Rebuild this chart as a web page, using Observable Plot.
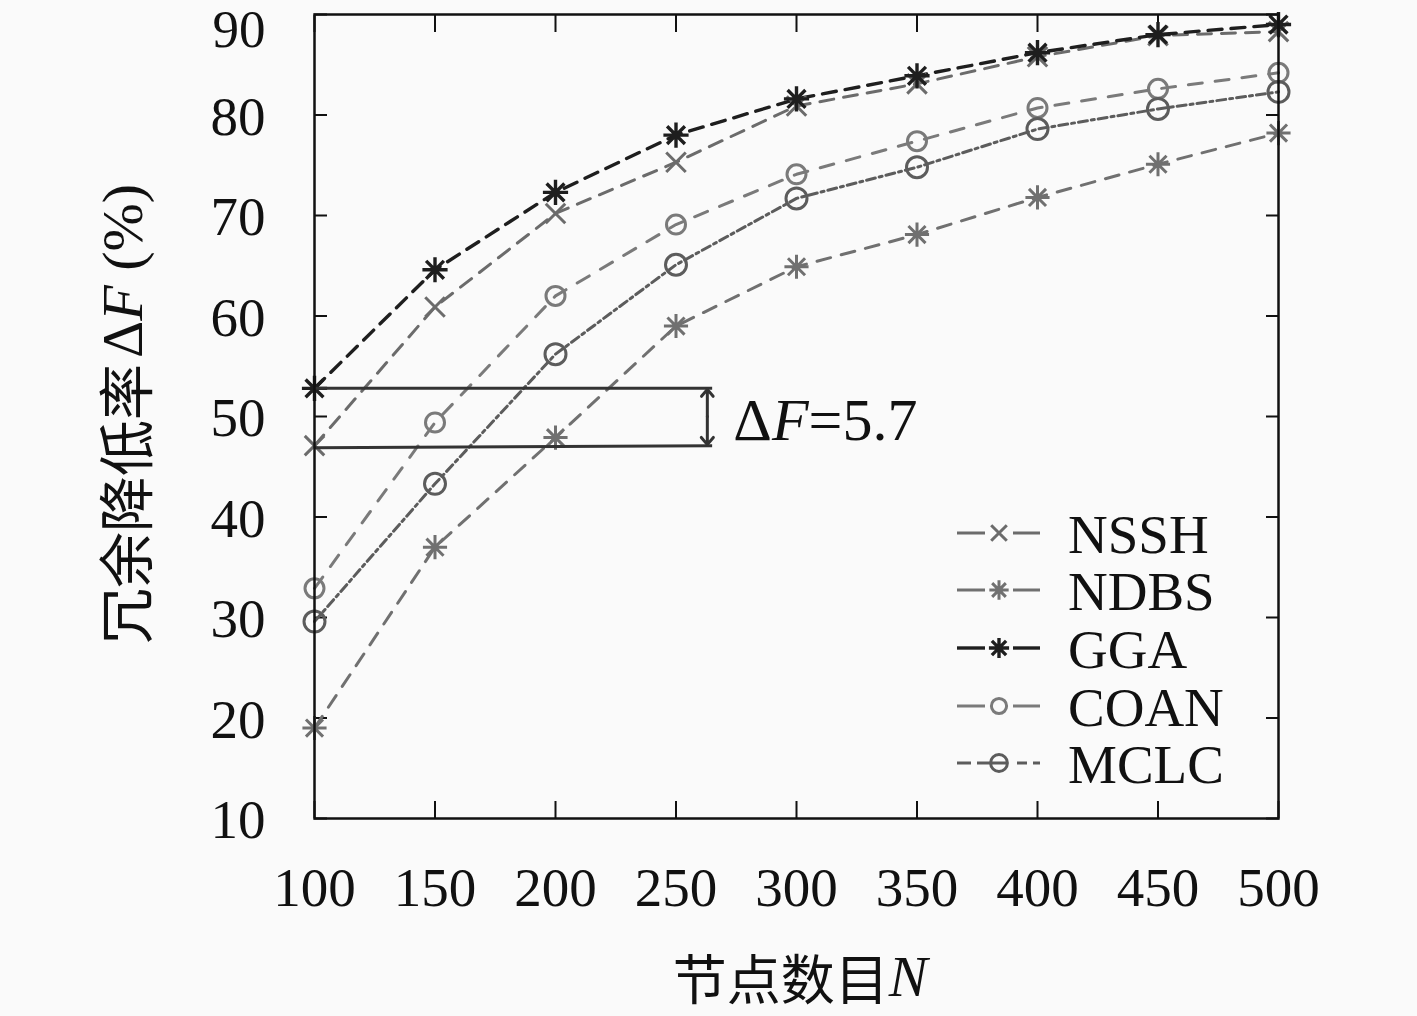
<!DOCTYPE html>
<html><head><meta charset="utf-8">
<script src="https://cdn.jsdelivr.net/npm/d3@7"></script>
<script src="https://cdn.jsdelivr.net/npm/@observablehq/plot@0.6"></script>
<style>body{margin:0;background:#fafafa;}</style>
</head><body><div id="chart"></div>
<script>
// ---- data ----
const N = [100, 150, 200, 250, 300, 350, 400, 450, 500];
const NSSH = [47.1, 60.9, 70.2, 75.3, 80.9, 83.1, 85.8, 87.9, 88.3];
const NDBS = [19.0, 37.0, 47.9, 59.0, 64.9, 68.1, 71.8, 75.1, 78.2];
const GGA  = [52.8, 64.6, 72.3, 78.0, 81.6, 83.9, 86.2, 88.0, 89.0];
const COAN = [32.9, 49.4, 62.0, 69.1, 74.1, 77.4, 80.7, 82.6, 84.2];
const MCLC = [29.6, 43.3, 56.2, 65.1, 71.7, 74.8, 78.6, 80.6, 82.3];
const seriesNames = ["NSSH", "NDBS", "GGA", "COAN", "MCLC"];
const seriesValues = [NSSH, NDBS, GGA, COAN, MCLC];
const xTicks = [100, 150, 200, 250, 300, 350, 400, 450, 500];
const yTicks = [10, 20, 30, 40, 50, 60, 70, 80, 90];
// annotation (data units)
const annoLines = [{x1: 100, y1: 52.8, x2: 265, y2: 52.8}, {x1: 100, y1: 46.9, x2: 265, y2: 47.1}];
const annoArrowMid = 50.0, annoArrowX = 263, annoArrowTop = 52.7, annoArrowBottom = 47.2;
const annoText = {x: 274, y: 49.6, label: "5.7"};

// ---- custom symbols ----
const star8 = {draw(ctx, size) {
  const r = Math.sqrt(size / Math.PI) * 1.05;
  for (let i = 0; i < 4; i++) {
    const a = i * Math.PI / 4;
    ctx.moveTo(-r * Math.cos(a), -r * Math.sin(a));
    ctx.lineTo(r * Math.cos(a), r * Math.sin(a));
  }
}};
const cross = {draw(ctx, size) {
  const r = Math.sqrt(size / Math.PI) * 0.75;
  ctx.moveTo(-r, -r); ctx.lineTo(r, r);
  ctx.moveTo(-r, r); ctx.lineTo(r, -r);
}};
const ring = {draw(ctx, size) {
  const r = Math.sqrt(size / Math.PI);
  ctx.moveTo(r, 0); ctx.arc(0, 0, r, 0, 2 * Math.PI);
}};

const styles = {
  NSSH: {stroke: "#6b6b6b", dash: "14,10", symbol: cross, r: 13, sw: 3},
  NDBS: {stroke: "#707070", dash: "14,11", symbol: star8, r: 11.5, sw: 3},
  GGA:  {stroke: "#1e1e1e", dash: "14,9", symbol: star8, r: 12, sw: 3.4},
  COAN: {stroke: "#7a7a7a", dash: "14,13", symbol: ring, r: 9.5, sw: 3},
  MCLC: {stroke: "#5c5c5c", dash: "9,4,3,4", symbol: ring, r: 10.5, sw: 3}
};

const rows = seriesNames.flatMap((s, i) => N.map((n, j) => ({series: s, n, v: seriesValues[i][j]})));

const lineMarks = seriesNames.map(s => {
  const st = styles[s];
  const d = rows.filter(r => r.series === s);
  return Plot.line(d, {x: "n", y: "v", stroke: st.stroke, strokeWidth: st.sw, strokeDasharray: st.dash});
});
const dotMarks = seriesNames.map(s => {
  const st = styles[s];
  const d = rows.filter(r => r.series === s);
  return Plot.dot(d, {x: "n", y: "v", symbol: st.symbol, r: st.r, stroke: st.stroke, fill: "none", strokeWidth: st.sw});
});

const yTicksLow = yTicks.slice(0, -1), yTicksTop = yTicks.slice(-1);

const chart = Plot.plot({
  width: 1417, height: 1016,
  marginLeft: 314, marginRight: 139, marginTop: 14, marginBottom: 198,
  style: {fontFamily: "'Liberation Serif', serif", fontSize: "55px", background: "#fafafa", color: "#111"},
  x: {domain: [100, 500], ticks: xTicks, label: null},
  y: {domain: [10, 90], ticks: yTicks, label: null},
  marks: [
    Plot.axisY(yTicksLow, {anchor: "left", tickSize: 0, tickPadding: 49, label: null, dy: 2}),
    Plot.axisY(yTicksTop, {anchor: "left", tickSize: 0, tickPadding: 49, label: null, dy: 16, fontSize: 53}),
    Plot.axisX(xTicks, {anchor: "bottom", tickSize: 0, tickPadding: 48, label: null}),
    Plot.axisY(yTicks, {anchor: "left", tickSize: -13, fill: "none", label: null, strokeWidth: 2}),
    Plot.axisY(yTicks, {anchor: "right", tickSize: -13, fill: "none", label: null, strokeWidth: 2}),
    Plot.axisX(xTicks, {anchor: "bottom", tickSize: -17, fill: "none", label: null, strokeWidth: 2}),
    Plot.axisX(xTicks, {anchor: "top", tickSize: -17, fill: "none", label: null, strokeWidth: 2}),
    ...lineMarks,
    ...dotMarks,
    Plot.link(annoLines, {x1: "x1", y1: "y1", x2: "x2", y2: "y2", stroke: "#333", strokeWidth: 3}),
    Plot.arrow([{x1: annoArrowX, y1: annoArrowMid, x2: annoArrowX, y2: annoArrowTop},
                {x1: annoArrowX, y1: annoArrowMid, x2: annoArrowX, y2: annoArrowBottom}],
      {x1: "x1", y1: "y1", x2: "x2", y2: "y2", stroke: "#333", strokeWidth: 3, headLength: 16, headAngle: 80}),
    Plot.frame({stroke: "#111", strokeWidth: 2.5})
  ]
});
document.getElementById("chart").appendChild(chart);

const svg = d3.select(chart);
const xs = chart.scale("x"), ys = chart.scale("y");
const serif = "'Liberation Serif', serif";
const cjk = "'Noto Sans CJK SC', sans-serif";

// annotation text ΔF=5.7
const at = svg.append("text")
  .attr("x", xs.apply(annoText.x)).attr("y", ys.apply(annoText.y))
  .attr("text-anchor", "start").attr("dominant-baseline", "central")
  .attr("font-family", serif).attr("font-size", 60).attr("fill", "#111");
at.append("tspan").text("Δ");
at.append("tspan").attr("font-style", "italic").text("F");
at.append("tspan").text("=" + annoText.label);

// y label
const yl = svg.append("text")
  .attr("transform", "translate(122,414) rotate(-90)")
  .attr("text-anchor", "middle").attr("dominant-baseline", "central")
  .attr("font-size", 56).attr("fill", "#111");
yl.append("tspan").attr("font-family", cjk).text("冗余降低率");
yl.append("tspan").attr("font-family", serif).attr("font-size", 58).attr("dx", 6).text("Δ");
yl.append("tspan").attr("font-family", serif).attr("font-size", 58).attr("font-style", "italic").text("F");
yl.append("tspan").attr("font-family", serif).attr("font-size", 58).text(" (%)");

// x label
const xl = svg.append("text")
  .attr("x", 800).attr("y", 976)
  .attr("text-anchor", "middle").attr("dominant-baseline", "central")
  .attr("font-size", 54).attr("fill", "#111");
xl.append("tspan").attr("font-family", cjk).text("节点数目");
xl.append("tspan").attr("font-family", serif).attr("font-size", 58).attr("font-style", "italic").text("N");

// legend
const lg = svg.append("g");
const rowY = [533, 590, 648, 706, 763];
seriesNames.forEach((s, i) => {
  const st = styles[s];
  const y = rowY[i];
  const g = lg.append("g");
  if (s === "MCLC") {
    g.append("line").attr("x1", 957).attr("x2", 1040).attr("y1", y).attr("y2", y)
      .attr("stroke", st.stroke).attr("stroke-width", st.sw).attr("stroke-dasharray", "14,6,30,10,10,6,10");
  } else {
    g.append("line").attr("x1", 957).attr("x2", 985).attr("y1", y).attr("y2", y)
      .attr("stroke", st.stroke).attr("stroke-width", st.sw);
    g.append("line").attr("x1", 1013).attr("x2", 1040).attr("y1", y).attr("y2", y)
      .attr("stroke", st.stroke).attr("stroke-width", st.sw);
  }
  const path = d3.path();
  const rr = st.r * 0.8;
  st.symbol.draw(path, Math.PI * rr * rr);
  g.append("path").attr("d", path.toString()).attr("transform", `translate(999,${y})`)
    .attr("fill", "none").attr("stroke", st.stroke).attr("stroke-width", st.sw);
  g.append("text").attr("x", 1068).attr("y", y + 1).attr("text-anchor", "start").attr("dominant-baseline", "central")
    .attr("font-family", serif).attr("font-size", 55).attr("fill", "#111").text(s);
});
</script></body></html>
